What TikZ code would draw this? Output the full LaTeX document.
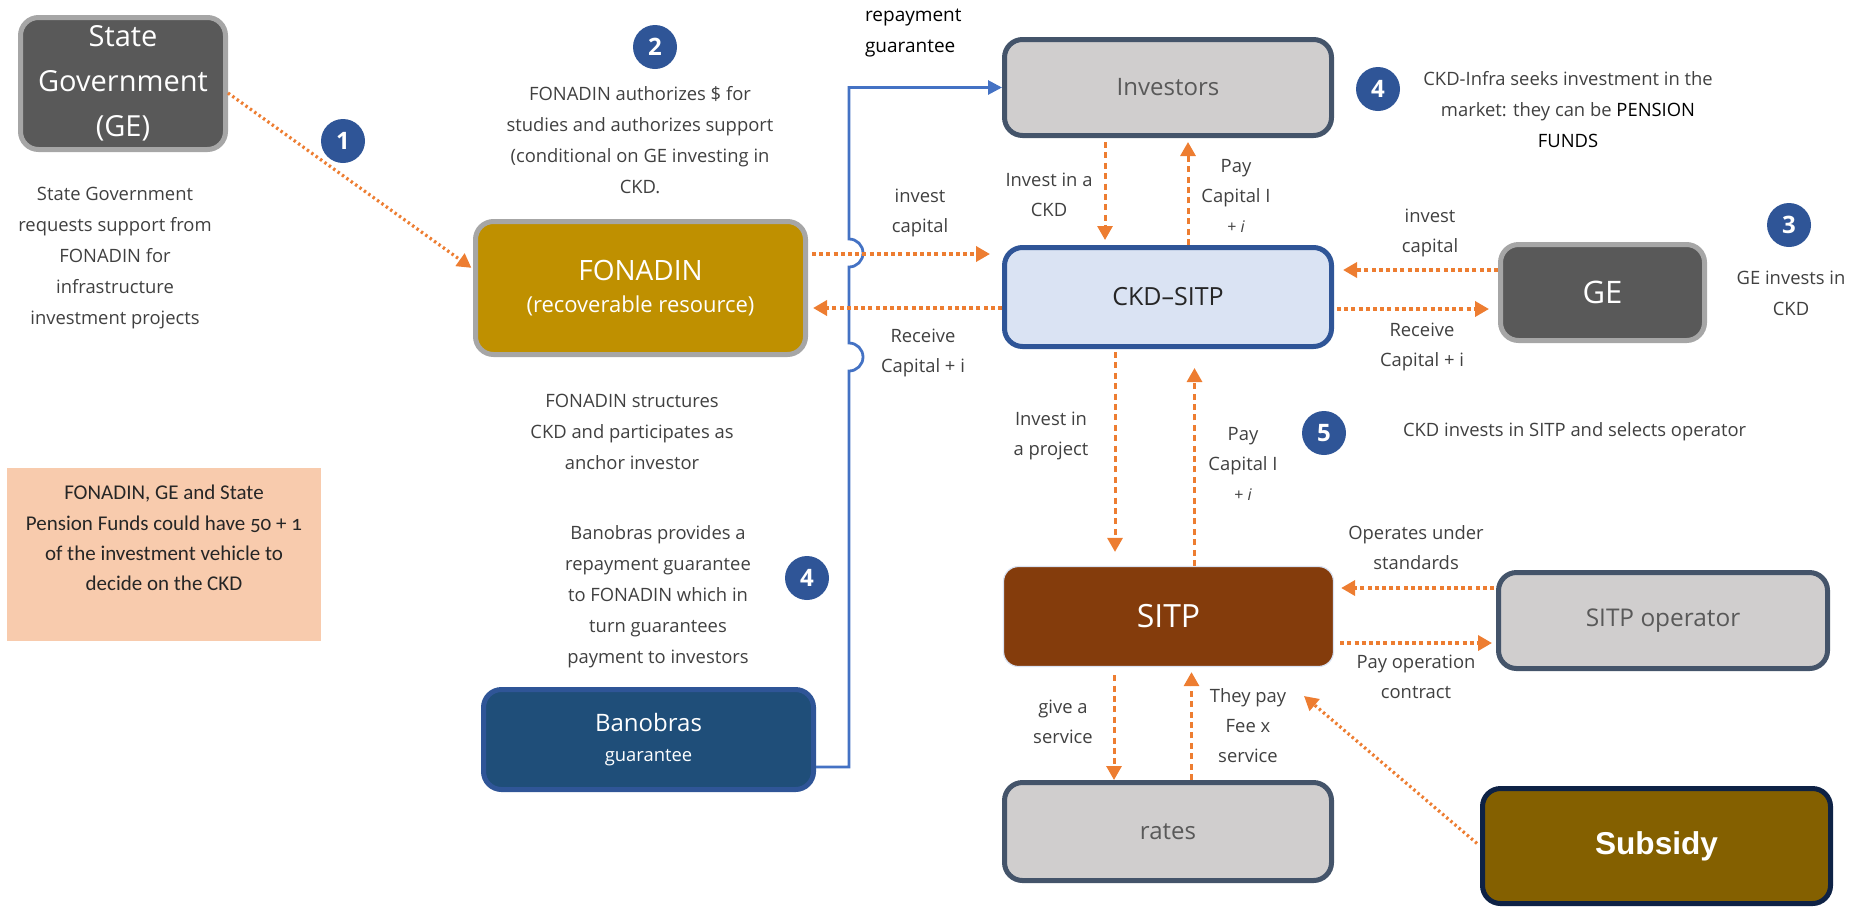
\documentclass[tikz,border=0pt]{standalone}
\usepackage{fontspec}
\setmainfont{Open Sans}
\newfontfamily\calfont[Numbers=OldStyle]{Carlito}
\newfontfamily\arialfont{Liberation Sans}
\usetikzlibrary{arrows.meta}

\definecolor{flowor}{HTML}{ED7D31}
\definecolor{guarblue}{HTML}{4472C4}
\definecolor{badgeblue}{HTML}{2F5597}
\definecolor{notegray}{HTML}{404040}
\definecolor{boxgray}{HTML}{D0CECE}
\definecolor{slate}{HTML}{44546A}
\definecolor{darkgray}{HTML}{595959}
\definecolor{rimgray}{HTML}{A6A6A6}
\definecolor{fongold}{HTML}{BF9000}
\definecolor{ckdblue}{HTML}{DAE3F3}
\definecolor{sitpbrown}{HTML}{843C0C}
\definecolor{subgold}{HTML}{846000}
\definecolor{subrim}{HTML}{0E2245}
\definecolor{banblue}{HTML}{1F4E79}
\definecolor{peach}{HTML}{F8CBAD}

\newcommand{\fsz}[2]{\fontsize{#1}{#2}\selectfont}

\tikzset{
  box/.style={rounded corners=9pt, line width=2.5pt, align=center, inner sep=0pt},
  flow/.style={draw=flowor, line width=2.2pt, dash pattern=on 2pt off 1.6pt,
    -{Triangle[length=7pt,width=7.5pt]}},
  vflow/.style={flow, line width=1.5pt, dash pattern=on 3pt off 2.2pt},
  diag/.style={flow, line width=1.6pt, dash pattern=on 1.2pt off 1.5pt},
  guar/.style={draw=guarblue, line width=1.4pt, -{Triangle[length=7pt,width=7pt]}},
  badge/.style={circle, fill=badgeblue, text=white, minimum size=22pt, inner sep=0pt,
    font=\bfseries\fsz{12}{12}},
  note/.style={text=notegray, align=center, font=\fsz{9.2}{15.5}},
  lbl/.style={text=notegray, align=center, font=\fsz{9.2}{15}}
}

\begin{document}
\begin{tikzpicture}[x=0.5pt, y=-0.5pt]

% ----------------------------
% PAGE (pixels of the reference)
% ----------------------------
\useasboundingbox (0,0) rectangle (1850,906);

% ----------------------------
% BOXES
% ----------------------------
\node[box, fill=darkgray, draw=rimgray, text=white, minimum width=102.5pt, minimum height=66pt,
  font=\fsz{14.5}{22.5}] (sg) at (123,83.5) {\raisebox{-2pt}{State}\\\raisebox{-2pt}{Government}\\\raisebox{-2pt}{(GE)}};

\node[box, fill=fongold, draw=rimgray, text=white, minimum width=165pt, minimum height=66.5pt]
  (fon) at (640.5,288) {{\fsz{14}{19.5}FONADIN}\\[4pt]{\fsz{11}{19.5}(recoverable resource)}};

\node[box, fill=boxgray, draw=slate, text=darkgray, minimum width=163.5pt, minimum height=48pt,
  font=\fsz{12}{14}] (inv) at (1168,87.5) {Investors};

\node[box, fill=ckdblue, draw=badgeblue, text=black!85, minimum width=163.5pt, minimum height=49.5pt,
  font=\fsz{12.5}{14}] (ckd) at (1168,297) {CKD--SITP};

\node[box, fill=darkgray, draw=rimgray, text=white, minimum width=102pt, minimum height=48pt,
  font=\fsz{15.5}{18}] (ge) at (1602.5,292.5) {GE};

\node[box, fill=sitpbrown, draw=ckdblue, line width=0.6pt, text=white, minimum width=165pt,
  minimum height=50pt, rounded corners=7.5pt, font=\fsz{16}{18}] (sitp) at (1168.5,616.5) {SITP};

\node[box, fill=boxgray, draw=slate, text=darkgray, minimum width=164.5pt, minimum height=48pt,
  font=\fsz{12.2}{14}] (op) at (1663,620.5) {SITP operator};

\node[box, fill=boxgray, draw=slate, text=darkgray, minimum width=163.5pt, minimum height=49pt,
  font=\fsz{12}{14}] (rates) at (1168,831.5) {rates};

\node[box, fill=subgold, draw=subrim, text=white, minimum width=174pt, minimum height=57.5pt,
  font=\arialfont\bfseries\fsz{15.8}{18}] (sub) at (1656.5,846) {Subsidy};

\node[box, fill=banblue, draw=badgeblue, text=white, minimum width=165pt, minimum height=50pt]
  (ban) at (648.5,739.5) {{\fsz{12}{13}Banobras}\\[3pt]{\fsz{9.2}{11}guarantee}};

\node[fill=peach, minimum width=157pt, minimum height=86.5pt, inner sep=0pt] (pfund) at (164,554.5) {};
\node[align=center, text=black!85, font=\calfont\fsz{10.5}{15.2}] (pfundtxt) at (164,538)
  {FONADIN, GE and State\\Pension Funds could have 50 + 1\\of the investment vehicle to\\decide on the CKD};

% ----------------------------
% NOTES
% ----------------------------
\node[note] (sgnote) at (115,258) {State Government\\requests support from\\FONADIN for\\infrastructure\\investment projects};
\node[note] (fonauth) at (640,140) {FONADIN authorizes \$ for\\studies and authorizes support\\(conditional on GE investing in\\CKD.};
\node[note] (fonstruct) at (632,432) {FONADIN structures\\CKD and participates as\\anchor investor};
\node[note] (banprov) at (658,596.5) {Banobras provides a\\repayment guarantee\\to FONADIN which in\\turn guarantees\\payment to investors};
\node[note] (ckdinfra) at (1568,110) {CKD-Infra seeks investment in the\\market: they can be \textcolor{black}{PENSION}\\\textcolor{black}{FUNDS}};
\node[note] (geinv) at (1791,293) {GE invests in\\CKD};
\node[note, anchor=west] (ckdinv) at (1396,432) {CKD invests in SITP and selects operator};
\node[align=left, anchor=west, text=black, font=\fsz{9.5}{15.5}] (repg) at (858,33) {repayment\\guarantee};

% badges
\node[badge] (b1) at (343,141) {1};
\node[badge] (b2) at (655,47) {2};
\node[badge] (b3) at (1789,225) {3};
\node[badge] (b4a) at (1378,89) {4};
\node[badge] (b4b) at (807,578) {4};
\node[badge] (b5) at (1324,433) {5};

% ----------------------------
% ARROW LABELS
% ----------------------------
\node[lbl] (l1) at (920,212.5) {invest\\capital};
\node[lbl] (l2) at (923,353) {Receive\\Capital + i};
\node[lbl] (l3) at (1049,195) {Invest in a\\CKD};
\node[lbl] (l4) at (1236,195.5) {Pay\\Capital I\\{\fsz{8}{14}+ \textit{i}}};
\node[lbl] (l5) at (1430,233) {invest\\capital};
\node[lbl] (l6) at (1422,347) {Receive\\Capital + i};
\node[lbl] (l7) at (1051,435.5) {Invest in\\a project};
\node[lbl] (l8) at (1243,464) {Pay\\Capital I\\{\fsz{8}{14}+ \textit{i}}};
\node[lbl] (l9) at (1416,548) {Operates under\\standards};
\node[lbl] (l10) at (1416,676.5) {Pay operation\\contract};
\node[lbl] (l11) at (1063,721.5) {give a\\service};
\node[lbl] (l12) at (1248,726) {They pay\\Fee x\\service};

% ----------------------------
% GUARANTEE LINE (with jumps)
% ----------------------------
\draw[guar] ([yshift=-13.75pt]ban.east) -- ++(33,0) -- (849,371)
  arc[start angle=-90, end angle=90, radius=7pt] -- (849,267)
  arc[start angle=-90, end angle=90, radius=7pt] |- (inv.west);

% ----------------------------
% FLOWS
% ----------------------------
\draw[diag, shorten >=1pt] ([yshift=-4.75pt]sg.east) -- ([yshift=9.5pt]fon.west);

\draw[flow, shorten <=2pt, shorten >=6pt] ([yshift=17pt]fon.east) -- ([yshift=17pt]fon.east -| ckd.west);
\draw[flow, shorten >=2.5pt] ([yshift=-5.5pt]ckd.west) -- ([yshift=-5.5pt]ckd.west -| fon.east);

\draw[flow, shorten >=4.5pt] ([yshift=11.25pt]ge.west) -- ([yshift=11.25pt]ge.west -| ckd.east);
\draw[flow, shorten <=1.5pt, shorten >=4.5pt] ([yshift=-6pt]ckd.east) -- ([yshift=-6pt]ckd.east -| ge.west);

\draw[vflow, shorten <=2pt, shorten >=2.5pt] ([xshift=-31.5pt]inv.south) -- ([xshift=-31.5pt]inv.south |- ckd.north);
\draw[vflow, shorten >=2pt] ([xshift=10pt]ckd.north) -- ([xshift=10pt]ckd.north |- inv.south);

\draw[vflow, shorten <=1.5pt, shorten >=7pt] ([xshift=-26.5pt]ckd.south) -- ([xshift=-26.5pt]ckd.south |- sitp.north);
\draw[vflow, shorten >=9.5pt] ([xshift=13pt]sitp.north) -- ([xshift=13pt]sitp.north |- ckd.south);

\draw[flow, shorten <=1pt, shorten >=3.5pt] ([yshift=16.25pt]op.west) -- ([yshift=16.25pt]op.west -| sitp.east);
\draw[flow, shorten <=3pt, shorten >=2pt] ([yshift=-13.25pt]sitp.east) -- ([yshift=-13.25pt]sitp.east -| op.west);

\draw[vflow, shorten <=4pt] ([xshift=-27.25pt]sitp.south) -- ([xshift=-27.25pt]sitp.south |- rates.north);
\draw[vflow, shorten >=2.5pt] ([xshift=11.75pt]rates.north) -- ([xshift=11.75pt]rates.north |- sitp.south);

\coordinate (fee) at (1304,696);
\draw[diag, shorten <=2pt] (sub.west) -- (fee);

\end{tikzpicture}
\end{document}
